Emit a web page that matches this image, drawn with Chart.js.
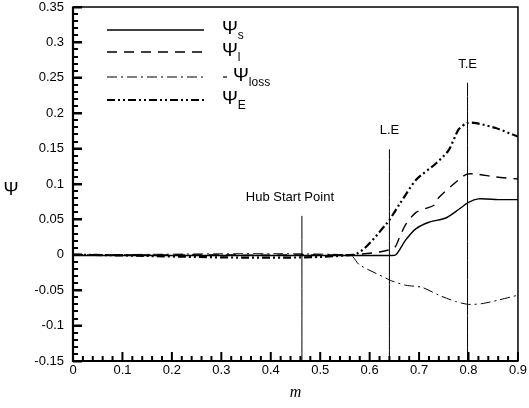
<!DOCTYPE html>
<html>
<head>
<meta charset="utf-8">
<script src="https://cdn.jsdelivr.net/npm/chart.js@4.4.0/dist/chart.umd.min.js"></script>
<style>
  html, body { margin: 0; padding: 0; background: #fff; }
  #wrap { width: 529px; height: 408px; }
</style>
</head>
<body>
<div id="wrap"><canvas id="graf" width="529" height="408"></canvas></div>
<script>
// values (m on x, psi on y)
const mS    = [0, 0.56, 0.64, 0.653, 0.673, 0.694, 0.72, 0.754, 0.78, 0.80, 0.82, 0.86, 0.9];
const psiS  = [-0.001, -0.001, -0.001, 0, 0.021, 0.037, 0.046, 0.052, 0.064, 0.074, 0.079, 0.078, 0.078];

const mL    = [0, 0.56, 0.62, 0.65, 0.66, 0.673, 0.694, 0.73, 0.74, 0.78, 0.797, 0.815, 0.855, 0.9];
const psiL  = [0, 0, 0.004, 0.01, 0.024, 0.043, 0.06, 0.07, 0.081, 0.106, 0.114, 0.114, 0.11, 0.107];

const mLoss   = [0, 0.56, 0.579, 0.633, 0.645, 0.673, 0.706, 0.74, 0.774, 0.80, 0.827, 0.86, 0.9];
const psiLoss = [0, 0, -0.014, -0.033, -0.037, -0.043, -0.046, -0.057, -0.066, -0.07, -0.069, -0.064, -0.057];

const mE    = [0, 0.566, 0.633, 0.66, 0.694, 0.734, 0.76, 0.78, 0.797, 0.815, 0.855, 0.9];
const psiE  = [0, 0, 0.043, 0.071, 0.106, 0.129, 0.148, 0.177, 0.186, 0.186, 0.179, 0.167];

// marker lines: position, top
const markerNames = ['Hub Start Point', 'L.E', 'T.E'];
const markerM     = [0.463, 0.64, 0.798];
const markerTop   = [0.055, 0.149, 0.243];

const xTicks = [0, 0.1, 0.2, 0.3, 0.4, 0.5, 0.6, 0.7, 0.8, 0.9];
const yTicks = [-0.15, -0.1, -0.05, 0, 0.05, 0.1, 0.15, 0.2, 0.25, 0.3, 0.35];
const xMinorTicks = [];
const yMinorTicks = [];
for (let i = 0; i <= 45; i++) xMinorTicks.push(Math.round(i * 2) / 100);
for (let i = 0; i <= 50; i++) yMinorTicks.push(Math.round(-15 + i) / 100);

const legendNames = ['s', 'l', 'loss', 'E'];

const dashS = [];
const dashL = [10, 7];
const dashLoss = [10, 4, 2, 4];
const dashE = [8, 3, 2, 3, 2, 3];

function pts(mArr, psiArr) {
  return mArr.map((m, i) => ({ x: m, y: psiArr[i] }));
}

const datasets = [
  { data: pts(mS, psiS), borderColor: '#000', borderWidth: 1.4, borderDash: dashS },
  { data: pts(mL, psiL), borderColor: '#000', borderWidth: 1.4, borderDash: dashL },
  { data: pts(mLoss, psiLoss), borderColor: '#000', borderWidth: 1, borderDash: dashLoss },
  { data: pts(mE, psiE), borderColor: '#000', borderWidth: 2.2, borderDash: dashE }
];
markerM.forEach((m, i) => {
  datasets.push({ data: [{ x: m, y: -0.15 }, { x: m, y: markerTop[i] }], borderColor: '#000', borderWidth: 1 });
});
datasets.forEach(d => { d.pointRadius = 0; d.fill = false; d.tension = 0.25; });

const dibujo = {
  id: 'dibujo',
  afterDraw(chart) {
    const ctx = chart.ctx;
    const a = chart.chartArea;
    const sx = chart.scales.x, sy = chart.scales.y;
    ctx.save();
    ctx.setLineDash([]);
    ctx.strokeStyle = '#000';
    ctx.fillStyle = '#000';

    // frame
    ctx.lineWidth = 1.5;
    ctx.strokeRect(a.left, a.top, a.right - a.left, a.bottom - a.top);
    ctx.lineWidth = 2.2;
    ctx.beginPath();
    ctx.moveTo(a.left, a.top); ctx.lineTo(a.left, a.bottom); ctx.lineTo(a.right, a.bottom);
    ctx.stroke();

    // inner ticks
    const izq = Math.round(a.left);
    yMinorTicks.forEach((v, i) => {
      const py = Math.round(sy.getPixelForValue(v));
      const len = (i % 5 === 0) ? 9 : 5;
      ctx.fillRect(izq, py - 1, len, 2);
    });
    xMinorTicks.forEach((v, i) => {
      const px = sx.getPixelForValue(v);
      const len = (i % 5 === 0) ? 9 : 5;
      ctx.fillRect(px - 1, a.bottom - len, 2, len);
    });

    // marker labels
    ctx.font = '13px "Liberation Sans", Arial, sans-serif';
    ctx.textAlign = 'center';
    ctx.textBaseline = 'alphabetic';
    const shift = [-12, 0, 0];
    markerNames.forEach((n, i) => {
      const px = sx.getPixelForValue(markerM[i]);
      const py = sy.getPixelForValue(markerTop[i]);
      ctx.fillText(n, px + shift[i], py - 15);
    });

    // legend
    const rows = [30, 52, 77, 100];
    const dashes = [dashS, dashL, dashLoss, dashE];
    const widths = [1.4, 1.4, 1, 2.2];
    legendNames.forEach((n, i) => {
      ctx.lineWidth = widths[i];
      ctx.setLineDash(dashes[i]);
      ctx.beginPath();
      ctx.moveTo(107, rows[i]); ctx.lineTo(204, rows[i]);
      ctx.stroke();
      ctx.setLineDash([]);
      let tx = 222;
      if (n === 'loss') {
        ctx.lineWidth = 1.2;
        ctx.beginPath(); ctx.moveTo(223, rows[i]); ctx.lineTo(227, rows[i]); ctx.stroke();
        tx = 233;
      }
      ctx.textAlign = 'left';
      ctx.textBaseline = 'middle';
      ctx.font = '19px "Liberation Sans", Arial, sans-serif';
      ctx.fillText('\u03A8', tx, rows[i] - 1);
      const w = ctx.measureText('\u03A8').width;
      ctx.font = '12px "Liberation Sans", Arial, sans-serif';
      ctx.fillText(n, tx + w, rows[i] + 6);
    });

    // axis titles
    ctx.textAlign = 'center';
    ctx.textBaseline = 'middle';
    ctx.font = '18px "Liberation Sans", Arial, sans-serif';
    ctx.fillText('\u03A8', 11, 190);
    ctx.font = 'italic 16px "Liberation Serif", "Times New Roman", serif';
    ctx.fillText('m', (a.left + a.right) / 2, 393);
    ctx.restore();
  }
};

function etiqueta(v) {
  const r = Math.round(v * 100) / 100;
  return (r === 0 ? 0 : r).toString();
}

const fuenteTicks = { family: '"Liberation Sans", Arial, sans-serif', size: 13 };

const chart = new Chart(document.getElementById('graf').getContext('2d'), {
  type: 'line',
  data: { datasets: datasets },
  options: {
    responsive: false,
    animation: false,
    layout: { padding: { left: 0, top: 4, right: 10, bottom: 0 } },
    plugins: { legend: { display: false }, tooltip: { enabled: false } },
    scales: {
      x: {
        type: 'linear', min: 0, max: 0.9,
        afterFit: s => { s.height = 47; s.paddingTop = 0; },
        afterBuildTicks: s => { s.ticks = xTicks.map(v => ({ value: v })); },
        grid: { display: false, drawTicks: false },
        border: { display: false },
        ticks: { padding: 2, color: '#000', font: fuenteTicks, callback: etiqueta, maxRotation: 0 }
      },
      y: {
        type: 'linear', min: -0.15, max: 0.35,
        afterFit: s => { s.width = 73; s.paddingTop = 7; s.paddingBottom = 0; },
        afterBuildTicks: s => { s.ticks = yTicks.map(v => ({ value: v })); },
        grid: { display: true, drawOnChartArea: false, drawTicks: true, tickLength: -9, tickWidth: 2, tickColor: '#000' },
        border: { display: false },
        ticks: { padding: 18, color: '#000', font: fuenteTicks, callback: etiqueta }
      }
    }
  },
  plugins: [dibujo]
});
</script>
</body>
</html>
